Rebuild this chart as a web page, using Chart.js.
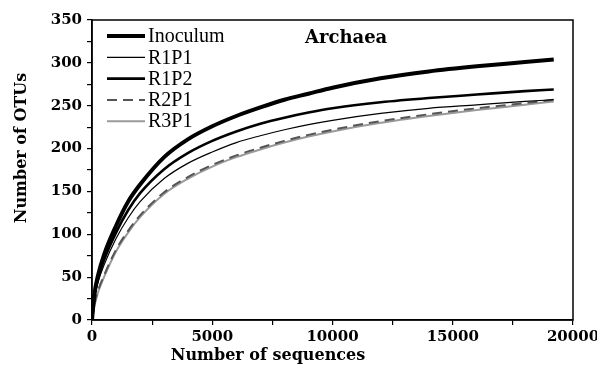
<!DOCTYPE html>
<html lang="en">
<head>
<meta charset="UTF-8">
<title>Archaea rarefaction</title>
<script src="https://cdn.jsdelivr.net/npm/chart.js"></script>
<style>
  html, body { margin: 0; padding: 0; background: #fff; }
  #wrap { width: 597px; height: 367px; }
</style>
</head>
<body>
<div id="wrap"><canvas id="grafico" width="597" height="367"></canvas></div>
<script>
// sequences sampled (x) and OTU counts for each library
const seqs     = [0, 100, 250, 500, 1000, 1500, 2000, 3000, 4000, 5000, 6000, 7000, 8000, 9000, 10000, 12000, 14000, 16000, 18000, 19200];
const inoculum = [0, 30, 52, 76, 110, 138, 158, 190, 211, 226, 238, 248, 257, 264, 271, 282, 290, 296, 301, 304];
const r1p2     = [0, 28, 48, 70, 102, 128, 148, 176, 195, 209, 220, 229, 236, 242, 247, 254, 259, 263, 267, 269];
const r1p1     = [0, 25, 44, 64, 95, 119, 138, 165, 183, 196, 207, 215, 222, 228, 233, 241, 247, 251, 255, 257];
const r2p1     = [0, 18, 34, 52, 82, 104, 122, 149, 167, 181, 192, 201, 209, 216, 222, 232, 240, 247, 253, 257];
const r3p1     = [0, 16, 32, 50, 80, 102, 120, 147, 165, 179, 190, 199, 207, 214, 220, 230, 238, 245, 251, 255];

const serif = '"DejaVu Serif", serif';
const pts = vals => seqs.map((s, i) => ({ x: s, y: vals[i] }));

function serie(label, vals, color, width, dash) {
  return {
    label: label, data: pts(vals), borderColor: color, borderWidth: width,
    borderDash: dash || [], pointRadius: 0, fill: false,
    cubicInterpolationMode: 'monotone'
  };
}

// frame, legend, inner title and axis titles
const extras = {
  id: 'extras',
  afterDraw(chart) {
    const c = chart.ctx, a = chart.chartArea;
    c.save();
    c.strokeStyle = '#000';
    c.lineWidth = 1.5;
    c.strokeRect(a.left, a.top, a.right - a.left, a.bottom - a.top);

    chart.data.datasets.forEach((ds, i) => {
      const y = 36 + i * 21.3;
      c.beginPath();
      c.strokeStyle = ds.borderColor;
      c.lineWidth = ds.borderWidth;
      c.setLineDash(ds.borderDash);
      c.moveTo(107, y); c.lineTo(145, y);
      c.stroke();
      c.setLineDash([]);
      c.fillStyle = '#000';
      c.font = '20px "Liberation Serif", serif';
      c.textBaseline = 'middle';
      c.textAlign = 'left';
      c.fillText(ds.label, 148, y + 1);
    });

    c.fillStyle = '#000';
    c.font = 'bold 18px ' + serif;
    c.textAlign = 'left';
    c.textBaseline = 'middle';
    c.fillText('Archaea', 305, 38);

    c.font = 'bold 16px ' + serif;
    c.textAlign = 'center';
    c.fillText('Number of sequences', 268, 356);

    c.translate(22, 148);
    c.rotate(-Math.PI / 2);
    c.fillText('Number of OTUs', 0, 0);
    c.restore();
  }
};

new Chart(document.getElementById('grafico'), {
  type: 'line',
  data: {
    datasets: [
      serie('Inoculum', inoculum, '#000', 4),
      serie('R1P1', r1p1, '#000', 1.2),
      serie('R1P2', r1p2, '#000', 2.6),
      serie('R2P1', r2p1, '#555', 2, [10, 6]),
      serie('R3P1', r3p1, '#9a9a9a', 2)
    ]
  },
  options: {
    responsive: false,
    animation: false,
    layout: { padding: { top: 20, right: 24, left: 0, bottom: 0 } },
    plugins: { legend: { display: false }, tooltip: { enabled: false } },
    scales: {
      x: {
        type: 'linear', min: 0, max: 20000,
        afterFit: s => { s.height = 47; s.paddingLeft = 0; s.paddingRight = 0; },
        border: { display: true, color: '#000', width: 1.5 },
        grid: { drawOnChartArea: false, drawTicks: true, tickLength: 5, color: '#000', lineWidth: 1.2 },
        ticks: {
          stepSize: 2500, maxRotation: 0, autoSkip: false, padding: 3, color: '#000',
          font: { family: serif, size: 15, weight: 'bold' },
          callback: v => (v % 5000 === 0 ? v : '')
        }
      },
      y: {
        min: 0, max: 350,
        afterFit: s => { s.width = 92; s.paddingTop = 0; s.paddingBottom = 0; },
        border: { display: true, color: '#000', width: 1.5 },
        grid: { drawOnChartArea: false, drawTicks: true, tickLength: 5, color: '#000', lineWidth: 1.2 },
        ticks: {
          stepSize: 25, autoSkip: false, padding: 5, color: '#000',
          font: { family: serif, size: 15, weight: 'bold' },
          callback: v => (v % 50 === 0 ? v : '')
        }
      }
    }
  },
  plugins: [extras]
});
</script>
</body>
</html>
